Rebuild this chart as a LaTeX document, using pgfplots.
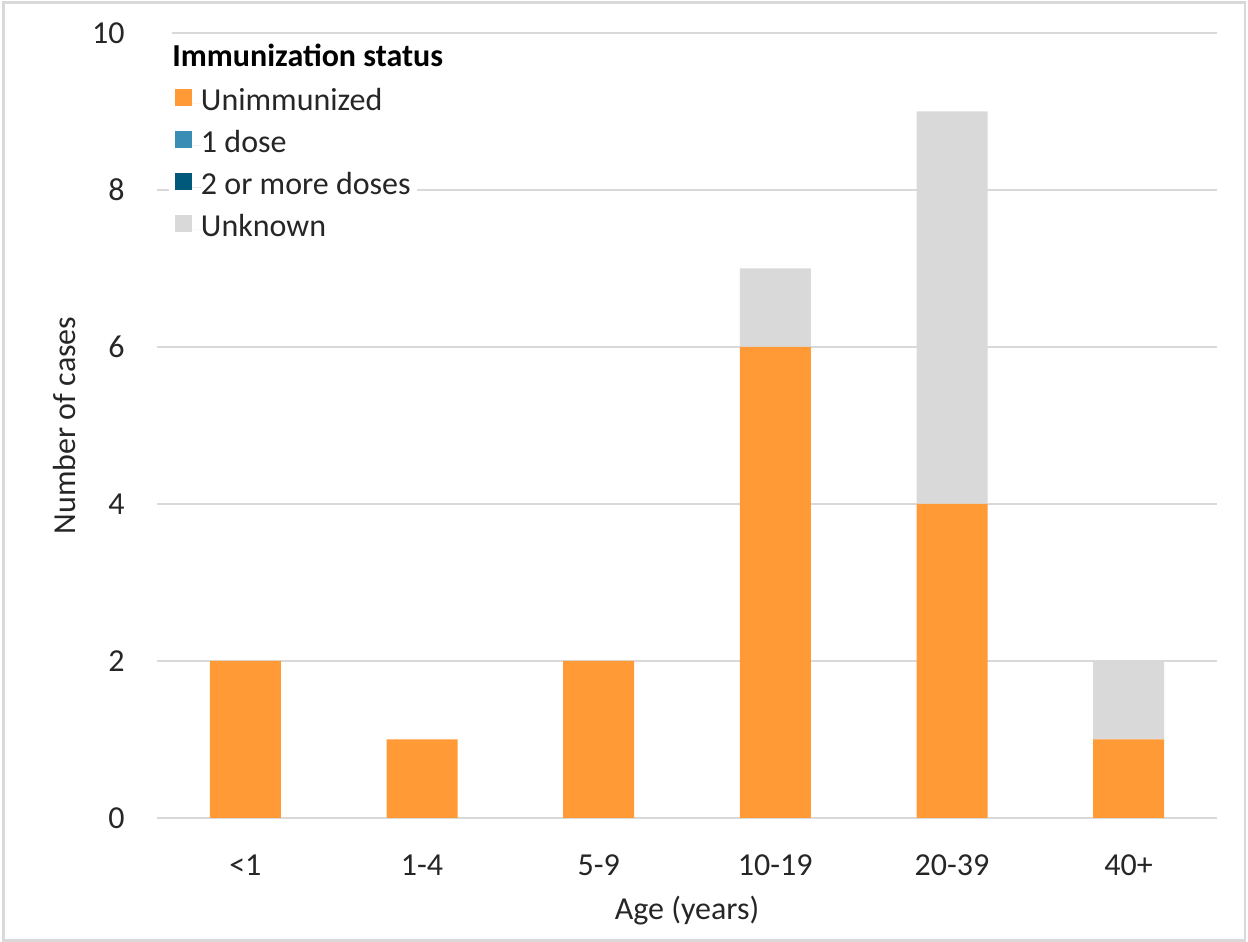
\documentclass[border=0pt]{standalone}
\usepackage{fontspec}
\setmainfont{Carlito}
\usepackage{pgfplots}
\pgfplotsset{compat=1.18}

\definecolor{unimm}{HTML}{FF9A36}
\definecolor{onedose}{HTML}{3A8EB5}
\definecolor{twodose}{HTML}{00587A}
\definecolor{unknown}{HTML}{D9D9D9}
\definecolor{gridgray}{HTML}{D9D9D9}

\begin{document}
\begin{tikzpicture}
  \begin{axis}[
    name=ax,
    scale only axis,
    width=530pt, height=392.5pt,
    ybar stacked,
    bar width=35.5pt,
    xmin=-0.5, xmax=5.5,
    ymin=0, ymax=10,
    xtick={0,1,2,3,4,5},
    xticklabels={{<1},{1-4},{5-9},{10-19},{20-39},{40+}},
    ytick={0,2,4,6,8,10},
    major tick length=0pt,
    axis line style={draw=none},
    ymajorgrids,
    grid style={gridgray, line width=0.8pt},
    tick label style={font=\fontsize{16}{19}\selectfont, text=black!85},
    /pgf/number format/assume math mode=true,
    yticklabel style={anchor=east, inner sep=0pt, xshift=-16pt},
    xticklabel style={anchor=center, inner sep=0pt, yshift=-23.5pt},
    xlabel={Age (years)},
    ylabel={Number of cases},
    label style={font=\fontsize{16}{19}\selectfont, text=black!85},
    xlabel style={at={(axis description cs:0.5,0)}, anchor=center, yshift=-46.5pt},
    ylabel style={at={(axis description cs:0,0.5)}, anchor=center, rotate=0, yshift=46pt},
    legend style={
      at={(rel axis cs:0,1)}, anchor=north west,
      xshift=6pt, yshift=-24pt,
      fill=white, draw=none, inner sep=3pt,
      font=\fontsize{16}{19}\selectfont,
      text=black!85,
      row sep=5pt,
      nodes={inner sep=0pt, text height=11.5pt, text depth=4.5pt},
    },
    legend cell align=left,
    legend image code/.code={
      \fill[#1, draw=none] (0pt,-1.3pt) rectangle (8.5pt,7.2pt);
      \path (0pt,0pt) -- (12.8pt,0pt);},
  ]
  \addplot[fill=unimm, draw=none] coordinates {(0,2) (1,1) (2,2) (3,6) (4,4) (5,1)};
  \addlegendentry{Unimmunized}
  \addplot[fill=onedose, draw=none] coordinates {(0,0) (1,0) (2,0) (3,0) (4,0) (5,0)};
  \addlegendentry{1 dose}
  \addplot[fill=twodose, draw=none] coordinates {(0,0) (1,0) (2,0) (3,0) (4,0) (5,0)};
  \addlegendentry{2 or more doses}
  \addplot[fill=unknown, draw=none] coordinates {(0,0) (1,0) (2,0) (3,1) (4,5) (5,1)};
  \addlegendentry{Unknown}
  \end{axis}
  \node[anchor=west, fill=white, inner xsep=0pt, inner ysep=5pt,
        font=\fontsize{16}{19}\selectfont\bfseries, text=black]
    at ([shift={(7.5pt,-11pt)}]ax.north west) {Immunization status\hspace{14pt}};
  \fill[white] ([shift={(-0.1pt,-0.6pt)}]ax.north west) rectangle ([shift={(7.6pt,0.6pt)}]ax.north west);
  \draw[gridgray, line width=1.3pt]
    ([shift={(-76.75pt,-61.25pt)}]ax.south west) rectangle ([shift={(14pt,15.25pt)}]ax.north east);
  \pgfresetboundingbox
  \path ([shift={(-78.5pt,-62pt)}]ax.south west) rectangle ([shift={(15.5pt,16.5pt)}]ax.north east);
\end{tikzpicture}
\end{document}
